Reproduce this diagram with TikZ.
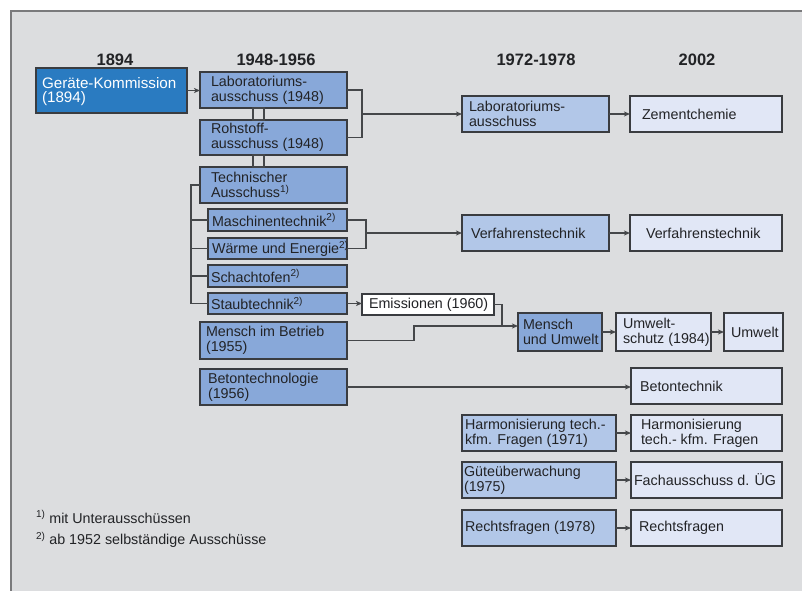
\documentclass[tikz,border=0pt]{standalone}
\usepackage{fontspec}
\setmainfont{Liberation Sans}
\usetikzlibrary{arrows.meta}

\definecolor{panel}{HTML}{DCDDDF}
\definecolor{panelline}{HTML}{7A7A7C}
\definecolor{boxline}{HTML}{3A3C40}
\definecolor{linecol}{HTML}{45474A}
\definecolor{ink}{HTML}{222326}
\definecolor{darkblue}{HTML}{2A7BC1}
\definecolor{midblue}{HTML}{88A8D9}
\definecolor{lightblue}{HTML}{B2C7E8}
\definecolor{paleblue}{HTML}{E1E7F6}

\tikzset{
  bx/.style={draw=boxline, line width=1.3pt, inner sep=0pt, outer sep=0pt},
  boxdark/.style={bx, fill=darkblue},
  boxmid/.style={bx, fill=midblue},
  boxlight/.style={bx, fill=lightblue},
  boxpale/.style={bx, fill=paleblue},
  boxwhite/.style={bx, fill=white},
  txt/.style={inner sep=0pt, outer sep=0pt, anchor=west, align=left, text=ink,
              font=\fontsize{14.3}{15}\selectfont},
  hdr/.style={inner sep=0pt, text=ink, font=\fontsize{16.5}{18}\selectfont\bfseries},
  conn/.style={draw=linecol, line width=1.1pt},
  arr/.style={conn, -{Stealth[length=6pt,width=5pt,inset=1.5pt]}},
}

% box from (x1,y1) to (x2,y2) with left-aligned text, padded from the left edge
% #1 name, #2 x1, #3 y1, #4 x2, #5 y2, #6 box style, #7 left padding, #8 text
\newcommand\tbox[8]{%
  \node[#6, minimum width={(#4-#2)*1pt}, minimum height={(#5-#3)*1pt}]
    (#1) at ({(#2+#4)/2},{(#3+#5)/2}) {};
  \node[txt] (#1-t) at ([xshift=#7pt]#1.west) {#8};
}

\begin{document}
\begin{tikzpicture}[x=1pt,y=-1pt]
\useasboundingbox (0,0) rectangle (802,590);

% panel
\fill[panel] (11,11) rectangle (803,591);
\draw[panelline, line width=1.5pt] (11,591) -- (11,11) -- (803,11);

% column headings
\node[hdr] (h1) at (115,60) {1894};
\node[hdr] (h2) at (276,60) {1948-1956};
\node[hdr] (h3) at (536,60) {1972-1978};
\node[hdr] (h4) at (697,60) {2002};

% 1894
\node[boxdark, minimum width=151pt, minimum height=45pt] (gk) at (111.5,90.5) {};
\node[txt, text=white, font=\fontsize{15.2}{14}\selectfont] (gk-t)
  at ([xshift=6pt,yshift=-1pt]gk.west) {Geräte-Kommission\\(1894)};

% 1948-1956
\tbox{lab}{200}{72}{347}{108}{boxmid}{11}{Laboratoriums-\\ausschuss (1948)}
\tbox{roh}{200}{120}{347}{155}{boxmid}{11}{Rohstoff-\\ausschuss (1948)}
\tbox{tech}{200}{167}{347}{203}{boxmid}{11}{Technischer\\Ausschuss\textsuperscript{1)}}
\tbox{ms}{208}{209}{347}{231}{boxmid}{4}{Maschinentechnik\textsuperscript{2)}}
\tbox{we}{208}{238}{347}{259}{boxmid}{4}{Wärme und Energie\textsuperscript{2)}}
\tbox{so}{208}{265}{347}{287}{boxmid}{3}{Schachtofen\textsuperscript{2)}}
\tbox{stb}{208}{293}{347}{314}{boxmid}{3}{Staubtechnik\textsuperscript{2)}}
\tbox{mib}{200}{322}{347}{359}{boxmid}{6}{Mensch im Betrieb\\(1955)}
\tbox{bt}{200}{369}{347}{405}{boxmid}{8}{Betontechnologie\\(1956)}
\tbox{em}{362}{294}{494}{315}{boxwhite}{7}{Emissionen (1960)}

% 1972-1978
\tbox{lab2}{462}{96}{609}{132}{boxlight}{7}{Laboratoriums-\\ausschuss}
\tbox{vt1}{462}{215}{609}{251}{boxlight}{9}{Verfahrenstechnik}
\tbox{mu}{518}{313}{602}{351}{boxmid}{5}{Mensch\\und Umwelt}
\tbox{harm1}{462}{415}{616}{451}{boxlight}{3}{Harmonisierung tech.-\\kfm. Fragen (1971)}
\tbox{gue}{462}{462}{616}{498}{boxlight}{2}{Güteüberwachung\\(1975)}
\tbox{rf1}{462}{510}{616}{546}{boxlight}{3}{Rechtsfragen (1978)}

% 2002
\tbox{zc}{630}{96}{782}{132}{boxpale}{12}{Zementchemie}
\tbox{vt2}{630}{215}{782}{251}{boxpale}{16}{Verfahrenstechnik}
\tbox{uws}{616}{313}{711}{351}{boxpale}{7}{Umwelt-\\schutz (1984)}
\tbox{uw}{724}{313}{783}{351}{boxpale}{7}{Umwelt}
\tbox{bt2}{631}{368}{782}{404}{boxpale}{9}{Betontechnik}
\tbox{harm2}{631}{415}{782}{451}{boxpale}{10}{Harmonisierung\\tech.- kfm. Fragen}
\tbox{fach}{631}{462}{782}{498}{boxpale}{3}{Fachausschuss d. ÜG}
\tbox{rf2}{631}{510}{782}{546}{boxpale}{8}{Rechtsfragen}

% couplings between stacked committees
\draw[conn] ([xshift=53pt]lab.south west) rectangle ([xshift=64pt]roh.north west);
\draw[conn] ([xshift=53pt]roh.south west) rectangle ([xshift=64pt]tech.north west);

% connectors
\draw[arr] (gk.east) -- (gk.east -| lab.west);

\draw[conn] (lab.east) -- ++(15,0) coordinate (b1) |- (roh.east);
\draw[arr] (b1 |- lab2.west) -- (lab2.west);
\draw[arr] (lab2.east) -- (lab2.east -| zc.west);

\coordinate (tl) at (191,0);
\draw[conn] (tech.west) -| (tl |- stb.west) -- (stb.west);
\foreach \n in {ms,we,so} \draw[conn] (tl |- \n.west) -- (\n.west);

\draw[conn] (ms.east) -- ++(19,0) coordinate (b2) |- (we.east);
\draw[arr] (b2 |- vt1.west) -- (vt1.west);
\draw[arr] (vt1.east) -- (vt1.east -| vt2.west);

\draw[arr] (stb.east) -- (stb.east -| em.west);
\coordinate (muin) at ([yshift=6pt]mu.west);
\draw[conn] (em.east) -- ++(8,0) coordinate (b3) -- (b3 |- muin);
\draw[arr] (mib.east) -- ++(67,0) |- (muin);
\draw[arr] (mu.east) -- (mu.east -| uws.west);
\draw[arr] (uws.east) -- (uws.east -| uw.west);

\draw[arr] (bt.east) -- (bt.east -| bt2.west);
\draw[arr] (harm1.east) -- (harm1.east -| harm2.west);
\draw[arr] (gue.east) -- (gue.east -| fach.west);
\draw[arr] (rf1.east) -- (rf1.east -| rf2.west);

% footnotes
\node[txt] (fn1) at (36,517) {\textsuperscript{1)} mit Unterausschüssen};
\node[txt] (fn2) at (36,540) {\textsuperscript{2)} ab 1952 selbständige Ausschüsse};
\end{tikzpicture}
\end{document}
